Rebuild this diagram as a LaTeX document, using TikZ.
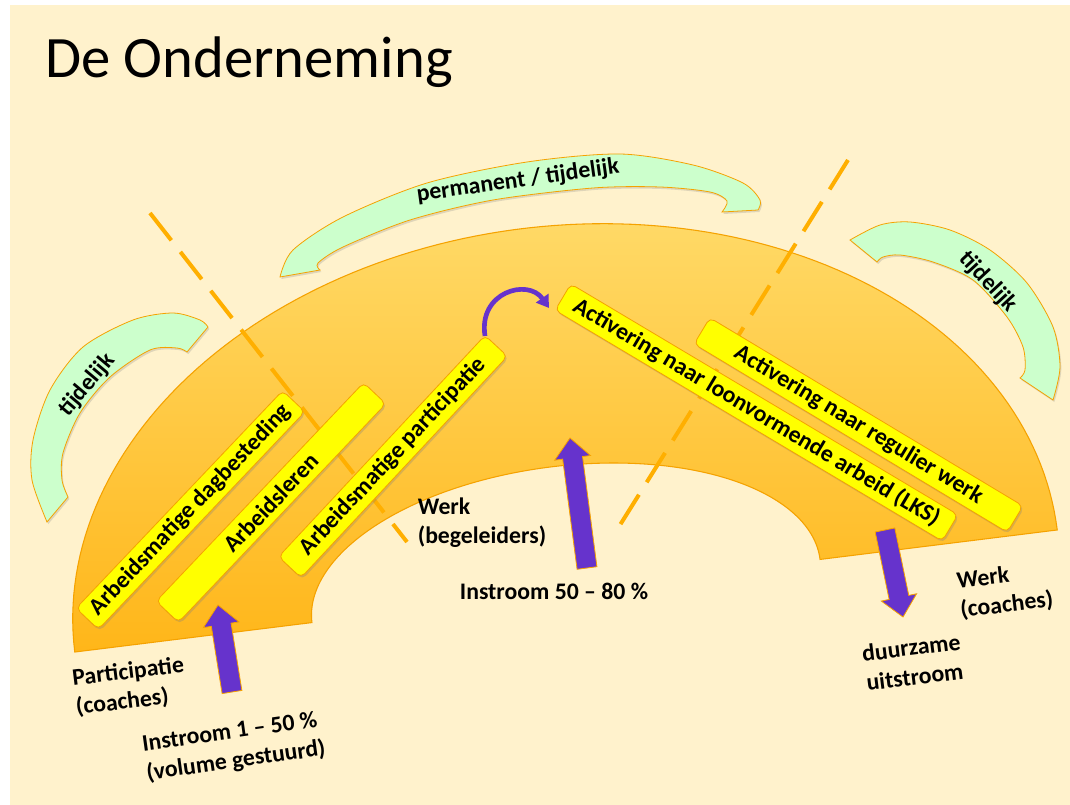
\documentclass[tikz,border=0pt]{standalone}
\usepackage{fontspec}
\setmainfont{Carlito}
\usetikzlibrary{calc,shadows,arrows.meta}
\definecolor{cream}{HTML}{FFF2CC}
\definecolor{ringtop}{HTML}{FFD966}
\definecolor{ringbot}{HTML}{FFB619}
\definecolor{ringline}{HTML}{F5A200}
\definecolor{bandfill}{HTML}{CCFFCC}
\definecolor{dashcol}{HTML}{FFAF00}
\definecolor{boxfill}{HTML}{FFFF00}
\definecolor{arrowfill}{HTML}{6633CC}
\newcommand\blkarrow[2]{%
  \coordinate (#1-b) at ($(#2)!15pt!(#1)$);
  \path[parrow] ($(#1)!7.5pt!90:(#2)$) -- ($(#1-b)!7.5pt!90:(#2)$) -- ($(#1-b)!13.5pt!90:(#2)$) -- (#2)
    -- ($(#1-b)!13.5pt!-90:(#2)$) -- ($(#1-b)!7.5pt!-90:(#2)$) -- ($(#1)!7.5pt!-90:(#2)$) -- cycle;}
\begin{document}
\begin{tikzpicture}[x=0.75pt,y=-0.75pt,
  ybox/.style={draw=ringline, line width=0.6pt, fill=boxfill, rounded corners=4pt,
    minimum height=23pt, inner sep=0pt, font=\bfseries\fontsize{17.8}{20}\selectfont,
    drop shadow={opacity=0.3, shadow xshift=1pt, shadow yshift=-1.5pt}},
  gband/.style={draw=ringline, line width=0.6pt, fill=bandfill,
    drop shadow={opacity=0.25, shadow xshift=1pt, shadow yshift=-1.5pt}},
  dline/.style={draw=dashcol, line width=3pt, dash pattern=on 26pt off 11pt},
  parrow/.style={fill=arrowfill, draw=ringline, line width=0.6pt},
  lbl/.style={font=\bfseries\fontsize{17.8}{22}\selectfont, inner sep=0pt},
  bandtxt/.style={font=\bfseries\fontsize{17.8}{20}\selectfont, inner sep=0pt}]
\useasboundingbox (0,0) rectangle (1070,805);
\fill[white] (0,0) rectangle (1070,805);
\fill[cream] (10,5) rectangle (1070,805);

% title
\node[anchor=base west, inner sep=0pt, font=\fontsize{44}{50}\selectfont] (title) at (45,78) {De Onderneming};

% ring
\path[draw=ringline, line width=0.8pt, top color=ringtop, bottom color=ringbot]
  plot[domain=0:180, samples=120] ({566+495*cos(\x)*0.9924-365*sin(\x)*0.1233},{591-495*cos(\x)*0.1233-365*sin(\x)*0.9924})
  -- plot[domain=180:0, samples=120] ({566+256*cos(\x)*0.9924-125*sin(\x)*0.1233},{591-256*cos(\x)*0.1233-125*sin(\x)*0.9924})
  -- cycle;

% green bands
\path[gband] plot[smooth] coordinates {(280,277) (293,250) (343,217) (427,183) (527,162) (620,154) (693,165) (743,183) (760,200) (758,210)}
  -- plot[smooth] coordinates {(722,212) (727,201) (710,192) (660,187) (593,188) (493,200) (410,220) (343,247) (318,263) (320,270)} -- cycle;
\node[bandtxt, rotate=8] (bandtop) at (518,181) {permanent / tijdelijk};

\path[gband] plot[smooth] coordinates {(47,522) (32,480) (33,440) (50,390) (83,347) (133,320) (173,313) (200,320) (208,327)}
  -- plot[smooth] coordinates {(187,352) (177,348) (150,350) (110,377) (80,413) (63,453) (62,480) (68,497)} -- cycle;
\node[bandtxt, rotate=50] (bandleft) at (87,385) {tijdelijk};

\path[gband] plot[smooth] coordinates {(850,240) (880,225) (910,222) (950,230) (990,250) (1027,283) (1053,327) (1060,367) (1053,400)}
  -- plot[smooth] coordinates {(1020,378) (1025,370) (1023,347) (1007,317) (973,280) (933,262) (900,255) (883,257) (877,262)} -- cycle;
\node[bandtxt, rotate=-47] (bandright) at (988,282) {tijdelijk};

% dashed lines
\coordinate (d1a) at (150,213); \coordinate (d1b) at (407,542);
\coordinate (d2a) at (848,160); \coordinate (d2b) at (620,525);
\draw[dline] (d1a) -- (d1b);
\draw[dline] (d2a) -- (d2b);

% yellow boxes
\node[ybox, rotate=46.5, minimum width=225pt] (b1) at (190.5,510) {Arbeidsmatige dagbesteding};
\node[ybox, rotate=46.5, minimum width=226pt] (b2) at (271,502.5) {Arbeidsleren};
\node[ybox, rotate=47, minimum width=227pt] (b3) at (393,456.5) {Arbeidsmatige participatie};
\node[ybox, rotate=-30.8, minimum width=338pt] (b4) at (756.5,412.5) {Activering naar loonvormende arbeid (LKS)};
\node[ybox, rotate=-31, minimum width=274pt] (b5) at (858.5,425) {Activering naar regulier werk};

% purple arrows
\coordinate (aT) at (232,692); \coordinate (aP) at (218,605);
\coordinate (bT) at (587,568); \coordinate (bP) at (570,438);
\coordinate (cT) at (885,530); \coordinate (cP) at (903,617);
\blkarrow{aT}{aP}
\blkarrow{bT}{bP}
\blkarrow{cT}{cP}

% small curved arrow
\coordinate (ca) at (485,336); \coordinate (cb) at (549,308);
\draw[line width=3.5pt, arrowfill, -{Triangle[length=9pt,width=11pt]}] (ca) .. controls (478,292) and (528,278) .. (cb);

% labels
\node[lbl, align=left] (werkb) at (482,523) {Werk\\(begeleiders)};
\node[lbl] (in5080) at (554,591) {Instroom 50 -- 80 \%};
\node[lbl, align=left, rotate=7] (partc) at (130,687) {Participatie\\(coaches)};
\node[lbl, align=left, rotate=8] (in150) at (234,747) {Instroom 1 -- 50 \%\\(volume gestuurd)};
\node[lbl, align=left, rotate=7] (werkc) at (1005,591) {Werk\\(coaches)};
\node[lbl, align=center, rotate=7] (duur) at (913,662) {duurzame\\uitstroom};
\end{tikzpicture}
\end{document}
